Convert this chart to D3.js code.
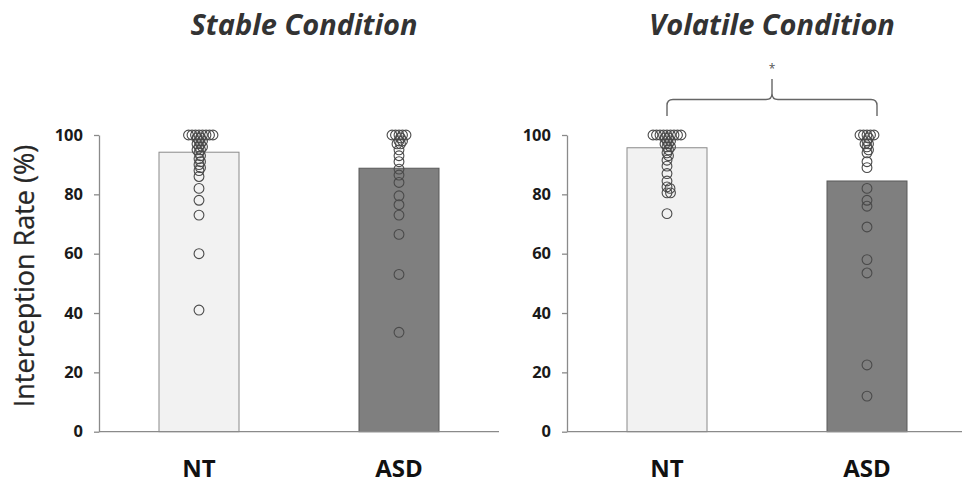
<!DOCTYPE html>
<html>
<head>
<meta charset="utf-8">
<script src="https://cdn.jsdelivr.net/npm/d3@7"></script>
<style>
  body { margin: 0; background: #fff; }
  text { font-family: "Open Sans", sans-serif; }
</style>
</head>
<body>
<svg id="chart"></svg>
<script>
// values
const conditions = ["Stable Condition", "Volatile Condition"];
const groups = ["NT", "ASD"];
const yTicks = [0, 20, 40, 60, 80, 100];

const meanStable = [94.2, 88.8];
const meanVolatile = [95.7, 84.5];

const stableNT = [100, 100, 100, 100, 100, 100, 100, 100, 99, 99, 98, 98, 97, 97, 96, 96,
    95, 95, 94, 93, 92, 91, 90, 89, 88, 86, 82, 78, 73, 60, 41];
const stableASD = [100, 100, 100, 100, 100, 99, 98, 98, 97, 97, 95, 93, 91, 88.5, 86.5,
    84, 79.5, 76.5, 73, 66.5, 53, 33.5];
const volatileNT = [100, 100, 100, 100, 100, 100, 100, 100, 100, 99, 99, 98, 98, 97, 97,
    96, 96, 95, 94, 93, 91.5, 89.5, 87, 84.5, 82.5, 82, 80.5, 80.5, 73.5];
const volatileASD = [100, 100, 100, 100, 100, 99, 98, 97, 97, 96, 95, 94, 91, 89, 82, 78,
    76, 69, 58, 53.5, 22.5, 12];

const means = [meanStable, meanVolatile];
const points = [[stableNT, stableASD], [volatileNT, volatileASD]];

const width = 962, height = 483;
const panelLeft = [99, 567], panelWidth = 400;
const barWidth = 80, r = 4.9;
const barFill = ["#f2f2f2", "#7f7f7f"], barStroke = ["#8a8a8a", "#5a5a5a"];

const svg = d3.select("#chart").attr("width", width).attr("height", height);

const y = d3.scaleLinear().domain([0, 100]).range([431.7, 135]);

// simple beeswarm: slide each point sideways until it clears the ones already placed
const dodge = (values, cx, minDist) => {
    var pts = values.map(v => ({ v: v, py: y(v) })).sort((a, b) => a.py - b.py);
    var placed = [];
    pts.forEach(p => {
        for (var k = 0; k < 400; k++) {
            var off = (k % 2 ? 1 : -1) * Math.ceil(k / 2) * 0.5;
            if (placed.every(q => Math.hypot(q.px - (cx + off), q.py - p.py) >= minDist)) {
                p.px = cx + off;
                break;
            }
        }
        placed.push(p);
    });
    return placed;
}

conditions.forEach((cond, ci) => {
    var x0 = panelLeft[ci];
    var x = d3.scalePoint().domain(groups).range([x0, x0 + panelWidth]).padding(0.5);
    var g = svg.append("g");

    // bars
    g.selectAll("rect.bar").data(groups).join("rect")
        .attr("class", "bar")
        .attr("x", d => x(d) - barWidth / 2)
        .attr("width", barWidth)
        .attr("y", (d, i) => y(means[ci][i]))
        .attr("height", (d, i) => y(0) - y(means[ci][i]))
        .attr("fill", (d, i) => barFill[i])
        .attr("stroke", (d, i) => barStroke[i])
        .attr("stroke-width", 1);

    // x axis line
    g.append("line")
        .attr("x1", x0).attr("x2", x0 + panelWidth)
        .attr("y1", y(0)).attr("y2", y(0))
        .attr("stroke", "#8a8a8a").attr("stroke-width", 1.3);

    // y axis
    var ax = g.append("g")
        .attr("transform", `translate(${x0},0)`)
        .call(d3.axisLeft(y).tickValues(yTicks).tickSize(5).tickSizeOuter(0).tickPadding(11));
    ax.select(".domain").attr("stroke", "#8a8a8a").attr("stroke-width", 1.3);
    ax.selectAll(".tick line").attr("stroke", "#8a8a8a").attr("stroke-width", 1.3);
    ax.selectAll(".tick text")
        .attr("font-family", "Open Sans, sans-serif")
        .attr("font-size", 16.5)
        .attr("font-weight", "bold")
        .attr("fill", "#1a1a1a");

    // individual participants
    groups.forEach((grp, gi) => {
        g.append("g").selectAll("circle")
            .data(dodge(points[ci][gi], x(grp), 3.3))
            .join("circle")
            .attr("cx", d => d.px)
            .attr("cy", d => d.py)
            .attr("r", r)
            .attr("fill", "none")
            .attr("stroke", "#4a4a4a")
            .attr("stroke-width", 1.1);
    });

    // group labels
    g.selectAll("text.grp").data(groups).join("text")
        .attr("class", "grp")
        .attr("x", d => x(d))
        .attr("y", 477)
        .attr("text-anchor", "middle")
        .attr("font-size", 24)
        .attr("font-weight", "bold")
        .attr("fill", "#111")
        .text(d => d);

    // panel title
    g.append("text")
        .attr("x", x0 + panelWidth / 2 + 5)
        .attr("y", 35)
        .attr("text-anchor", "middle")
        .attr("font-size", 29)
        .attr("font-weight", "bold")
        .attr("font-style", "italic")
        .attr("fill", "#333")
        .text(cond);

    // significance bracket (volatile only)
    if (ci == 1) {
        var x1 = x(groups[0]), x2 = x(groups[1]) + 10, xm = (x1 + x2) / 2;
        var yb = 116, yl = 99.5, yt = 79, c = 6;
        var path = `M${x1},${yb} L${x1},${yl + c} Q${x1},${yl} ${x1 + c},${yl} L${xm - c},${yl}
            Q${xm},${yl} ${xm},${yl - c} L${xm},${yt}
            M${xm},${yl - c} Q${xm},${yl} ${xm + c},${yl} L${x2 - c},${yl}
            Q${x2},${yl} ${x2},${yl + c} L${x2},${yb}`;
        g.append("path").attr("d", path)
            .attr("fill", "none").attr("stroke", "#666").attr("stroke-width", 1.4);
        g.append("text")
            .attr("x", xm).attr("y", 73)
            .attr("text-anchor", "middle")
            .attr("font-size", 12)
            .attr("fill", "#555")
            .text("*");
    }
});

// y axis title
svg.append("text")
    .attr("transform", "translate(34,276) rotate(-90)")
    .attr("text-anchor", "middle")
    .attr("font-size", 27)
    .attr("fill", "#262626")
    .attr("stroke", "#262626")
    .attr("stroke-width", 0.3)
    .text("Interception Rate (%)");
</script>
</body>
</html>
